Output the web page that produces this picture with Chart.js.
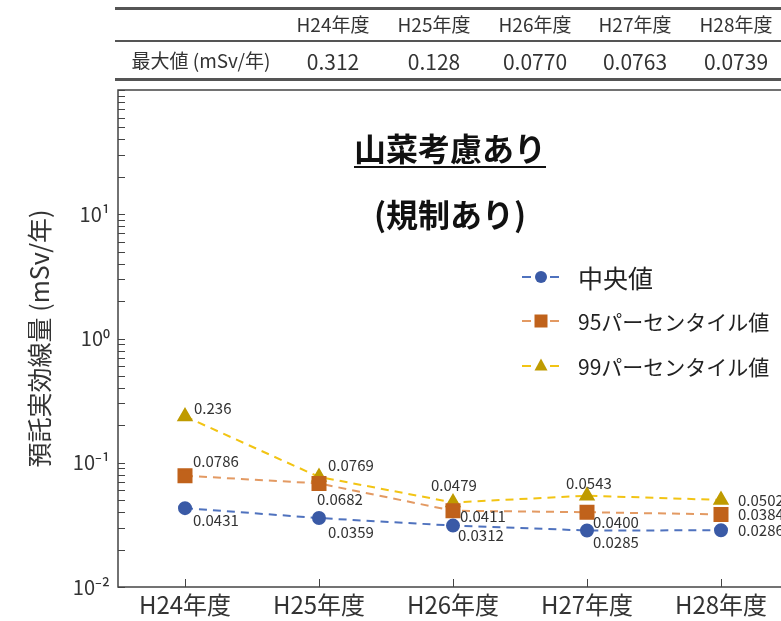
<!DOCTYPE html>
<html lang="ja">
<head>
<meta charset="utf-8">
<script src="https://cdn.jsdelivr.net/npm/chart.js@4.4.1/dist/chart.umd.min.js"></script>
<style>
  html, body { margin: 0; padding: 0; background: #fff; overflow: hidden; }
  #wrap { position: relative; width: 781px; height: 621px; overflow: hidden; font-family: "Noto Sans CJK JP", "Noto Sans", sans-serif; color: #333; }
  #chart { position: absolute; left: 0; top: 0; }
  .rule { position: absolute; left: 115px; width: 680px; background: #555; }
  .cell { position: absolute; transform: translate(-50%, -50%); white-space: nowrap; }
  .title { position: absolute; left: 450px; transform: translateX(-50%); font-weight: bold; font-size: 32px; color: #111; white-space: nowrap; }
</style>
</head>
<body>
<div id="wrap">
  <canvas id="chart" width="800" height="621"></canvas>
  <div class="rule" style="top:7px;height:2.5px"></div>
  <div class="rule" style="top:40px;height:1.5px"></div>
  <div class="rule" style="top:78px;height:2.5px"></div>
  <div id="table"></div>
  <div class="title" style="top:124px;text-decoration:underline;text-decoration-thickness:2px;text-underline-offset:5px">山菜考慮あり</div>
  <div class="title" style="top:190px">(規制あり)</div>
</div>
<script>
// categories and values
const years = ['H24年度', 'H25年度', 'H26年度', 'H27年度', 'H28年度'];
const maxValues = ['0.312', '0.128', '0.0770', '0.0763', '0.0739'];
const median = [0.0431, 0.0359, 0.0312, 0.0285, 0.0286];
const p95 = [0.0786, 0.0682, 0.0411, 0.0400, 0.0384];
const p99 = [0.236, 0.0769, 0.0479, 0.0543, 0.0502];
const seriesNames = ['中央値', '95パーセンタイル値', '99パーセンタイル値'];
const yTickValues = [];
for (let e = -2; e < 2; e++) {
    for (let s = 1; s < 10; s++) yTickValues.push(s * Math.pow(10, e));
}
yTickValues.push(100);
const yTickLabels = { '0.01': '10⁻²', '0.1': '10⁻¹', '1': '10⁰', '10': '10¹' };

// label offsets (dx, dy) from each point
const labelOffsets = [
    [[8, 12], [9, 14], [5, 10], [6, 12], [17, 0]],
    [[8, -14], [-2, 16], [7, 6], [6, 10], [17, 0]],
    [[9, -8], [9, -12], [-22, -17], [-21, -12], [17, 0]]
];

// table on top
const table = document.getElementById('table');
const colX = [333, 434, 535, 635, 736];
years.forEach((y, i) => {
    table.insertAdjacentHTML('beforeend', `<div class="cell" style="left:${colX[i]}px;top:23px;font-size:19px">${y}</div>`);
    table.insertAdjacentHTML('beforeend', `<div class="cell" style="left:${colX[i]}px;top:61px;font-size:21px">${maxValues[i]}</div>`);
});
table.insertAdjacentHTML('beforeend', '<div class="cell" style="left:201px;top:59px;font-size:19px">最大値 (mSv/年)</div>');

const font = '"Noto Sans CJK JP", "Noto Sans", sans-serif';

function drawMarker(ctx, style, x, y, color) {
    ctx.fillStyle = color;
    ctx.beginPath();
    if (style === 'circle') {
        ctx.arc(x, y, 6, 0, Math.PI * 2);
    } else if (style === 'rect') {
        ctx.rect(x - 6.5, y - 6.5, 13, 13);
    } else {
        ctx.moveTo(x, y - 7.5);
        ctx.lineTo(x + 6.5, y + 4.5);
        ctx.lineTo(x - 6.5, y + 4.5);
        ctx.closePath();
    }
    ctx.fill();
}

const extras = {
    id: 'extras',
    beforeDatasetsDraw(chart) {
        const ctx = chart.ctx;
        const a = chart.chartArea;
        const ys = chart.scales.y, xs = chart.scales.x;
        ctx.save();
        ctx.strokeStyle = '#444';
        ctx.lineWidth = 1.5;
        ctx.strokeRect(a.left, a.top, a.right - a.left, a.bottom - a.top);
        ctx.lineWidth = 1;
        yTickValues.forEach(v => {
            const p = Math.round(ys.getPixelForValue(v)) + 0.5;
            ctx.beginPath();
            ctx.moveTo(a.left, p);
            ctx.lineTo(a.left + 7, p);
            ctx.stroke();
        });
        years.forEach((c, i) => {
            const p = Math.round(xs.getPixelForValue(i)) + 0.5;
            ctx.beginPath();
            ctx.moveTo(p, a.bottom);
            ctx.lineTo(p, a.bottom - 8);
            ctx.stroke();
        });
        ctx.restore();
    },
    afterDatasetsDraw(chart) {
        const ctx = chart.ctx;
        ctx.save();
        ctx.font = '15px ' + font;
        ctx.fillStyle = '#333';
        ctx.textAlign = 'left';
        ctx.textBaseline = 'middle';
        chart.data.datasets.forEach((ds, di) => {
            chart.getDatasetMeta(di).data.forEach((pt, i) => {
                const o = labelOffsets[di][i];
                ctx.fillText(ds.data[i].toPrecision(3), pt.x + o[0], pt.y + o[1]);
            });
        });
        // legend
        const rows = [277, 321, 366];
        chart.data.datasets.forEach((ds, di) => {
            const y = rows[di];
            ctx.strokeStyle = ds.borderColor;
            ctx.lineWidth = 2;
            ctx.beginPath();
            ctx.moveTo(522, y); ctx.lineTo(531, y);
            ctx.moveTo(550, y); ctx.lineTo(559, y);
            ctx.stroke();
            drawMarker(ctx, ds.pointStyle, 541, y, ds.pointBackgroundColor);
            ctx.fillStyle = '#222';
            ctx.font = (di === 0 ? '25px ' : '21px ') + font;
            ctx.fillText(seriesNames[di], 578, y + 1);
        });
        ctx.restore();
    }
};

function series(label, data, line, point, style, radius) {
    return {
        label: label,
        data: data,
        borderColor: line,
        backgroundColor: point,
        pointBackgroundColor: point,
        pointBorderColor: point,
        pointStyle: style,
        pointRadius: radius,
        borderWidth: 2,
        borderDash: [8, 6],
        fill: false,
        tension: 0
    };
}

new Chart(document.getElementById('chart').getContext('2d'), {
    type: 'line',
    data: {
        labels: years,
        datasets: [
            series(seriesNames[0], median, '#4F72BE', '#3A5AA6', 'circle', 6),
            series(seriesNames[1], p95, '#E39A63', '#C0621B', 'rect', 9.2),
            series(seriesNames[2], p99, '#F2C414', '#BF9B00', 'triangle', 7.5)
        ]
    },
    options: {
        responsive: false,
        animation: false,
        layout: { padding: { top: 90, right: 12, left: 0, bottom: 0 } },
        plugins: { legend: { display: false }, tooltip: { enabled: false } },
        scales: {
            x: {
                offset: true,
                grid: { display: false, drawTicks: false },
                border: { display: false },
                ticks: { padding: 3, color: '#333', font: { size: 24, family: font } },
                afterFit: s => { s.height = 34; }
            },
            y: {
                type: 'logarithmic',
                min: 0.01,
                max: 100,
                grid: { display: false, drawTicks: false },
                border: { display: false },
                afterBuildTicks: s => { s.ticks = yTickValues.map(v => ({ value: v })); },
                ticks: {
                    padding: 8,
                    color: '#333',
                    autoSkip: false,
                    font: { size: 20, family: font },
                    callback: v => yTickLabels[String(+v.toPrecision(3))] || ''
                },
                title: {
                    display: true,
                    text: '預託実効線量 (mSv/年)',
                    color: '#333',
                    font: { size: 25, family: font },
                    padding: { top: 24, bottom: 0 }
                },
                afterFit: s => { s.width = 118; }
            }
        }
    },
    plugins: [extras]
});
</script>
</body>
</html>
